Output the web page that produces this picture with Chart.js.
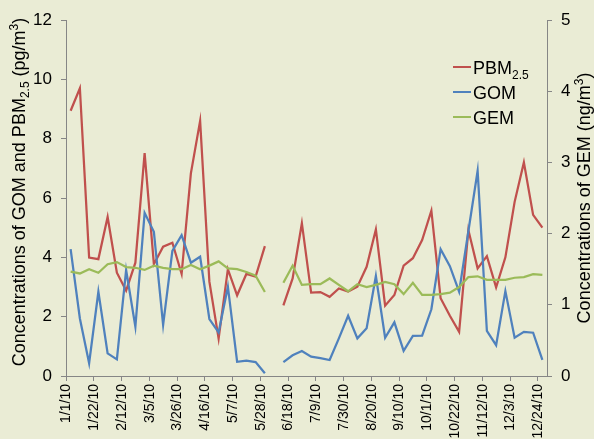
<!DOCTYPE html>
<html>
<head>
<meta charset="utf-8">
<script src="https://cdn.jsdelivr.net/npm/chart.js@4/dist/chart.umd.min.js"></script>
<style>
  html, body { margin: 0; padding: 0; background: #eaecd5; }
  #wrap { width: 594px; height: 439px; }
</style>
</head>
<body>
<div id="wrap"><canvas id="c" width="594" height="439"></canvas></div>
<script>
// ---- Data (weekly samples, 2010) ----
const categories = [
  '1/1/10','1/8/10','1/15/10','1/22/10','1/29/10','2/5/10','2/12/10','2/19/10','2/26/10',
  '3/5/10','3/12/10','3/19/10','3/26/10','4/2/10','4/9/10','4/16/10','4/23/10','4/30/10',
  '5/7/10','5/14/10','5/21/10','5/28/10','6/4/10','6/11/10','6/18/10','6/25/10','7/2/10',
  '7/9/10','7/16/10','7/23/10','7/30/10','8/6/10','8/13/10','8/20/10','8/27/10','9/3/10',
  '9/10/10','9/17/10','9/24/10','10/1/10','10/8/10','10/15/10','10/22/10','10/29/10','11/5/10',
  '11/12/10','11/19/10','11/26/10','12/3/10','12/10/10','12/17/10','12/24/10'
];
const labelEvery = 3;

const pbmValues = [
  8.94, 9.70, 3.99, 3.94, 5.36, 3.48, 2.88, 3.82, 7.51,
  3.77, 4.36, 4.49, 3.44, 6.83, 8.60, 3.18, 1.26, 3.60,
  2.72, 3.44, 3.35, 4.38, null,
  2.38, 3.29, 5.15, 2.81, 2.83, 2.67, 2.95, 2.85, 3.01, 3.68, 4.94,
  2.37, 2.73, 3.72, 3.97, 4.58, 5.57, 2.62, 2.03, 1.49,
  4.92, 3.63, 4.04, 2.99, 4.00, 5.87, 7.20, 5.43, 5.00
];
const gomValues = [
  4.28, 1.94, 0.43, 2.84, 0.76, 0.56, 3.57, 1.66, 5.50,
  4.86, 1.72, 4.22, 4.75, 3.82, 4.02, 1.92, 1.47, 3.01,
  0.48, 0.52, 0.47, 0.09, null,
  0.47, 0.70, 0.84, 0.65, 0.60, 0.54, 1.27, 2.03, 1.27, 1.61, 3.37,
  1.29, 1.81, 0.85, 1.35, 1.36, 2.25, 4.27, 3.70, 2.84,
  4.88, 6.92, 1.52, 1.04, 2.86, 1.29, 1.49, 1.46, 0.54
];
const gemValues = [
  1.465, 1.44, 1.50, 1.45, 1.57, 1.60, 1.53, 1.52, 1.49,
  1.55, 1.52, 1.50, 1.50, 1.56, 1.50, 1.55, 1.61, 1.51,
  1.50, 1.46, 1.41, 1.18, null,
  1.31, 1.55, 1.28, 1.29, 1.29, 1.37, 1.28, 1.19, 1.29, 1.25, 1.28,
  1.32, 1.29, 1.15, 1.31, 1.14, 1.14, 1.15, 1.17, 1.25,
  1.39, 1.40, 1.35, 1.35, 1.35, 1.38, 1.39, 1.43, 1.42
];
const leftTicks = { min: 0, max: 12, step: 2 };
const rightTicks = { min: 0, max: 5, step: 1 };

const colors = { pbm: '#c0504d', gom: '#4f81bd', gem: '#9bbb59' };
const axisGrey = '#868686';
const FONT = "'Liberation Sans', Arial, sans-serif";

function drawRuns(ctx, runs, startX) {
  let x = startX;
  for (const r of runs) {
    ctx.font = r.size + 'px ' + FONT;
    ctx.fillText(r.t, x, r.dy || 0);
    x += ctx.measureText(r.t).width;
  }
}
function runsWidth(ctx, runs) {
  let w = 0;
  for (const r of runs) { ctx.font = r.size + 'px ' + FONT; w += ctx.measureText(r.t).width; }
  return w;
}

const textPlugin = {
  id: 'textPlugin',
  beforeDraw(chart) {
    const ctx = chart.ctx;
    ctx.save();
    ctx.fillStyle = '#eaecd5';
    ctx.fillRect(0, 0, chart.width, chart.height);
    ctx.restore();
  },
  afterDraw(chart) {
    const ctx = chart.ctx;
    const area = chart.chartArea;
    ctx.save();
    ctx.fillStyle = '#000';
    ctx.textBaseline = 'alphabetic';
    ctx.textAlign = 'left';
    // Left axis title
    const leftRuns = [
      { t: 'Concentrations of GOM and PBM', size: 18 },
      { t: '2.5', size: 12, dy: 4 },
      { t: ' (pg/m', size: 18 },
      { t: '3', size: 12, dy: -7 },
      { t: ')', size: 18 }
    ];
    ctx.save();
    ctx.translate(24.5, 192);
    ctx.rotate(-Math.PI / 2);
    drawRuns(ctx, leftRuns, -runsWidth(ctx, leftRuns) / 2);
    ctx.restore();
    // Right axis title
    const rightRuns = [
      { t: 'Concentrations of GEM (ng/m', size: 18 },
      { t: '3', size: 12, dy: -7 },
      { t: ')', size: 18 }
    ];
    ctx.save();
    ctx.translate(590, (area.top + area.bottom) / 2);
    ctx.rotate(-Math.PI / 2);
    drawRuns(ctx, rightRuns, -runsWidth(ctx, rightRuns) / 2);
    ctx.restore();
    // Legend
    const items = [
      { color: colors.pbm, runs: [{ t: 'PBM', size: 18 }, { t: '2.5', size: 12, dy: 5 }], y: 67 },
      { color: colors.gom, runs: [{ t: 'GOM', size: 18 }], y: 92 },
      { color: colors.gem, runs: [{ t: 'GEM', size: 18 }], y: 117 }
    ];
    for (const it of items) {
      ctx.strokeStyle = it.color;
      ctx.lineWidth = 2;
      ctx.beginPath();
      ctx.moveTo(453, it.y);
      ctx.lineTo(471, it.y);
      ctx.stroke();
      ctx.save();
      ctx.translate(0, it.y + 6.5);
      drawRuns(ctx, it.runs, 473);
      ctx.restore();
    }
    ctx.restore();
  }
};

const lineDefaults = { borderWidth: 2.25, pointRadius: 0, pointHoverRadius: 0, tension: 0, spanGaps: false, fill: false };

new Chart(document.getElementById('c'), {
  type: 'line',
  data: {
    labels: categories,
    datasets: [
      Object.assign({ label: 'PBM2.5', data: pbmValues, borderColor: colors.pbm, yAxisID: 'y', order: 2 }, lineDefaults),
      Object.assign({ label: 'GOM', data: gomValues, borderColor: colors.gom, yAxisID: 'y', order: 1 }, lineDefaults),
      Object.assign({ label: 'GEM', data: gemValues, borderColor: colors.gem, yAxisID: 'y1', order: 0 }, lineDefaults)
    ]
  },
  options: {
    responsive: false,
    animation: false,
    devicePixelRatio: 1,
    layout: { padding: { top: 20, left: 0, right: 0, bottom: 0 } },
    plugins: { legend: { display: false }, tooltip: { enabled: false }, title: { display: false } },
    scales: {
      x: {
        type: 'category',
        offset: true,
        grid: {
          offset: true,
          drawOnChartArea: false,
          tickLength: 5,
          color: (c) => (c.index % labelEvery === 0 ? axisGrey : 'rgba(0,0,0,0)')
        },
        border: { color: axisGrey, width: 1 },
        ticks: {
          autoSkip: false,
          maxRotation: 90,
          minRotation: 90,
          padding: 3,
          labelOffset: -4,
          color: '#000',
          font: { family: FONT, size: 14 },
          callback: (v, i) => (i % labelEvery === 0 ? categories[i] : '')
        },
        afterFit: (s) => { s.height = 63; }
      },
      y: {
        position: 'left',
        min: leftTicks.min, max: leftTicks.max,
        ticks: { stepSize: leftTicks.step, color: '#000', padding: 9, font: { family: FONT, size: 17 } },
        grid: { drawOnChartArea: false, tickLength: 5, color: axisGrey },
        border: { color: axisGrey, width: 1 },
        afterFit: (s) => { s.width = 66; }
      },
      y1: {
        position: 'right',
        min: rightTicks.min, max: rightTicks.max,
        ticks: { stepSize: rightTicks.step, color: '#000', padding: 9, font: { family: FONT, size: 17 } },
        grid: { drawOnChartArea: false, tickLength: 5, color: axisGrey },
        border: { color: axisGrey, width: 1 },
        afterFit: (s) => { s.width = 47; }
      }
    }
  },
  plugins: [textPlugin]
});
</script>
</body>
</html>
